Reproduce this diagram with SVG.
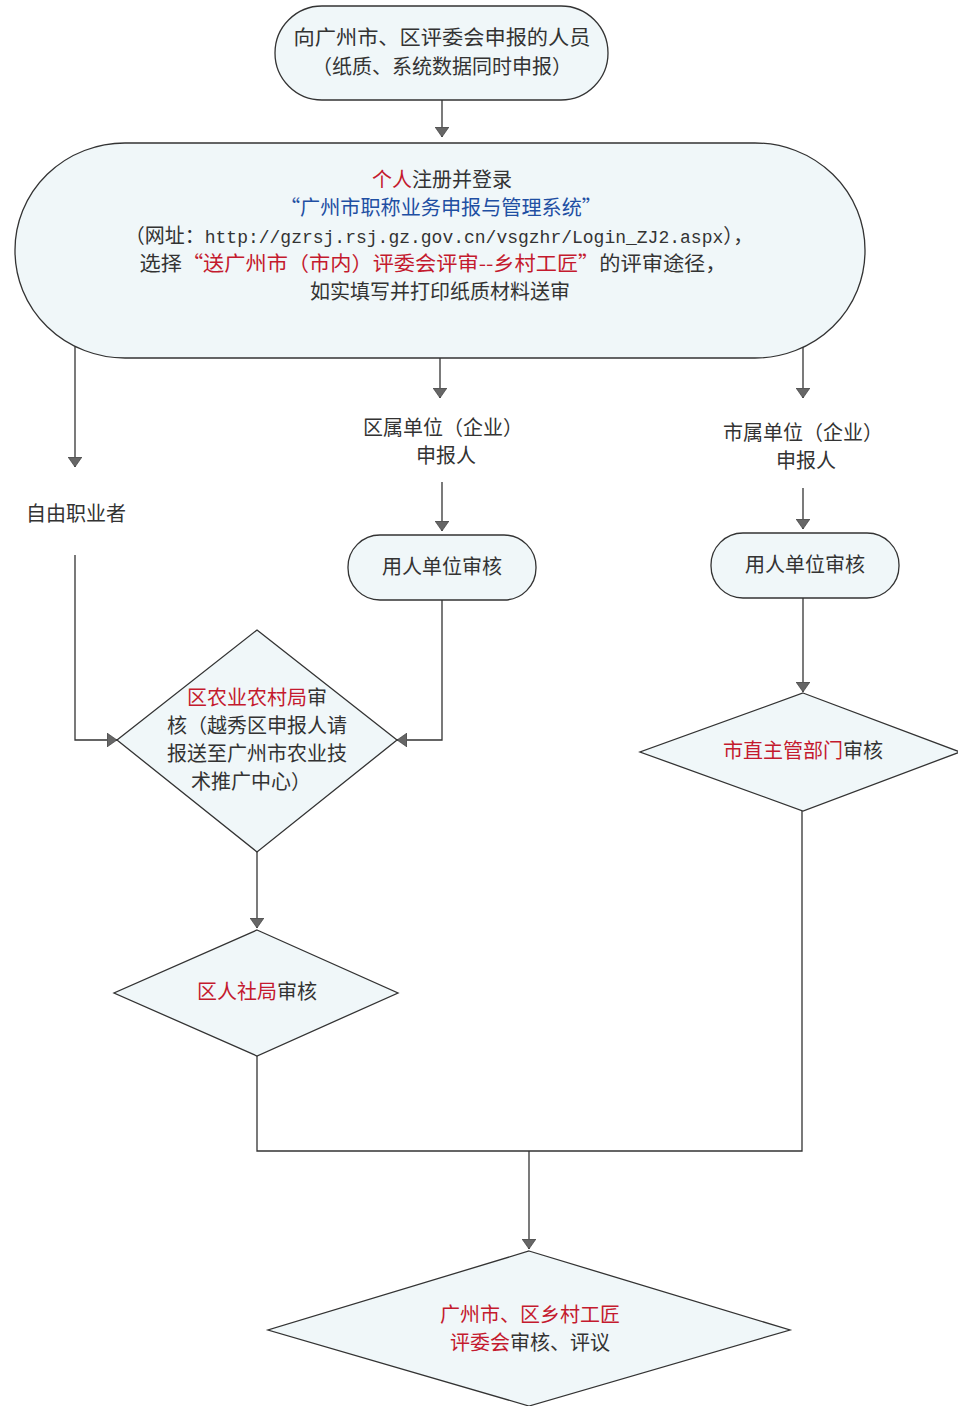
<svg xmlns="http://www.w3.org/2000/svg" width="958" height="1406" viewBox="0 0 958 1406">
<defs>
<style>
.box{fill:#f0f7f9;stroke:#333;stroke-width:1.3}
.ln{fill:none;stroke:#333;stroke-width:1.3}
.t{font-family:"Noto Sans CJK SC","Noto Sans",sans-serif;font-size:20px;fill:#333;text-anchor:middle}
.r{fill:#c41a2e}
.b{fill:#1f4fa3}
.m{font-family:"Liberation Mono",monospace;font-size:18px}
</style>
<marker id="ah" viewBox="0 0 10 14" refX="10" refY="7" markerWidth="10" markerHeight="14" markerUnits="userSpaceOnUse" orient="auto">
<path d="M0,0 L10,7 L0,14 Z" fill="#666" stroke="#333" stroke-width="0.6"/>
</marker>
</defs>
<rect width="958" height="1406" fill="#ffffff"/>

<g id="connectors">
<line class="ln" x1="442" y1="100" x2="442" y2="137" marker-end="url(#ah)"/>
<line class="ln" x1="75" y1="347" x2="75" y2="467" marker-end="url(#ah)"/>
<line class="ln" x1="440" y1="358" x2="440" y2="398" marker-end="url(#ah)"/>
<line class="ln" x1="803" y1="347" x2="803" y2="398" marker-end="url(#ah)"/>
<line class="ln" x1="442" y1="482" x2="442" y2="531" marker-end="url(#ah)"/>
<line class="ln" x1="803" y1="488" x2="803" y2="529" marker-end="url(#ah)"/>
<polyline class="ln" points="75,555 75,740 117,740" marker-end="url(#ah)"/>
<polyline class="ln" points="442,600 442,740 397,740" marker-end="url(#ah)"/>
<line class="ln" x1="257" y1="852" x2="257" y2="928" marker-end="url(#ah)"/>
<line class="ln" x1="803" y1="598" x2="803" y2="692" marker-end="url(#ah)"/>
<polyline class="ln" points="257,1056 257,1151 802,1151 802,811"/>
<line class="ln" x1="529" y1="1151" x2="529" y2="1249" marker-end="url(#ah)"/>
</g>

<g id="start">
<rect class="box" x="275" y="6" width="333" height="94" rx="47" ry="47"/>
<text class="t" x="442" y="45" font-size="20.5" textLength="297" lengthAdjust="spacingAndGlyphs">向广州市、区评委会申报的人员</text>
<text class="t" x="442" y="74" font-size="20.5">（纸质、系统数据同时申报）</text>
</g>

<g id="register">
<rect class="box" x="15" y="143" width="850" height="215" rx="110" ry="107"/>
<text class="t" x="442" y="187"><tspan class="r">个人</tspan>注册并登录</text>
<text class="t" x="441" y="215" font-size="20" textLength="322" lengthAdjust="spacingAndGlyphs"><tspan class="b">“广州市职称业务申报与管理系统”</tspan></text>
<text class="t" x="439" y="243">（网址：<tspan class="m">http://gzrsj.rsj.gz.gov.cn/vsgzhr/Login_ZJ2.aspx</tspan>），</text>
<text class="t" x="433" y="271" textLength="587" lengthAdjust="spacingAndGlyphs">选择<tspan class="r">“送广州市（市内）评委会评审--乡村工匠”</tspan>的评审途径，</text>
<text class="t" x="440" y="299">如实填写并打印纸质材料送审</text>
</g>

<g id="freelancer">
<text class="t" x="76" y="521" font-size="21">自由职业者</text>
</g>

<g id="district-applicant">
<text class="t" x="443" y="435">区属单位（企业）</text>
<text class="t" x="446" y="463">申报人</text>
</g>

<g id="city-applicant">
<text class="t" x="803" y="440">市属单位（企业）</text>
<text class="t" x="806" y="468">申报人</text>
</g>

<g id="employer-review-1">
<rect class="box" x="348" y="535" width="188" height="65" rx="32" ry="32"/>
<text class="t" x="442" y="574">用人单位审核</text>
</g>

<g id="employer-review-2">
<rect class="box" x="711" y="533" width="188" height="65" rx="32" ry="32"/>
<text class="t" x="805" y="572">用人单位审核</text>
</g>

<g id="district-agri">
<polygon class="box" points="257,630 397,740 257,852 117,740"/>
<text class="t" x="257" y="705"><tspan class="r">区农业农村局</tspan>审</text>
<text class="t" x="257" y="733">核（越秀区申报人请</text>
<text class="t" x="257" y="761">报送至广州市农业技</text>
<text class="t" x="251" y="789">术推广中心）</text>
</g>

<g id="district-hr">
<polygon class="box" points="257,930 398,993 257,1056 114,993"/>
<text class="t" x="257" y="999"><tspan class="r">区人社局</tspan>审核</text>
</g>

<g id="city-dept">
<polygon class="box" points="803,693 960,752 803,811 640,752"/>
<text class="t" x="803" y="758" font-size="21"><tspan class="r">市直主管部门</tspan>审核</text>
</g>

<g id="committee">
<polygon class="box" points="529,1251 790,1330 529,1406 268,1330"/>
<text class="t" x="530" y="1322"><tspan class="r">广州市、区乡村工匠</tspan></text>
<text class="t" x="530" y="1350"><tspan class="r">评委会</tspan>审核、评议</text>
</g>
</svg>
